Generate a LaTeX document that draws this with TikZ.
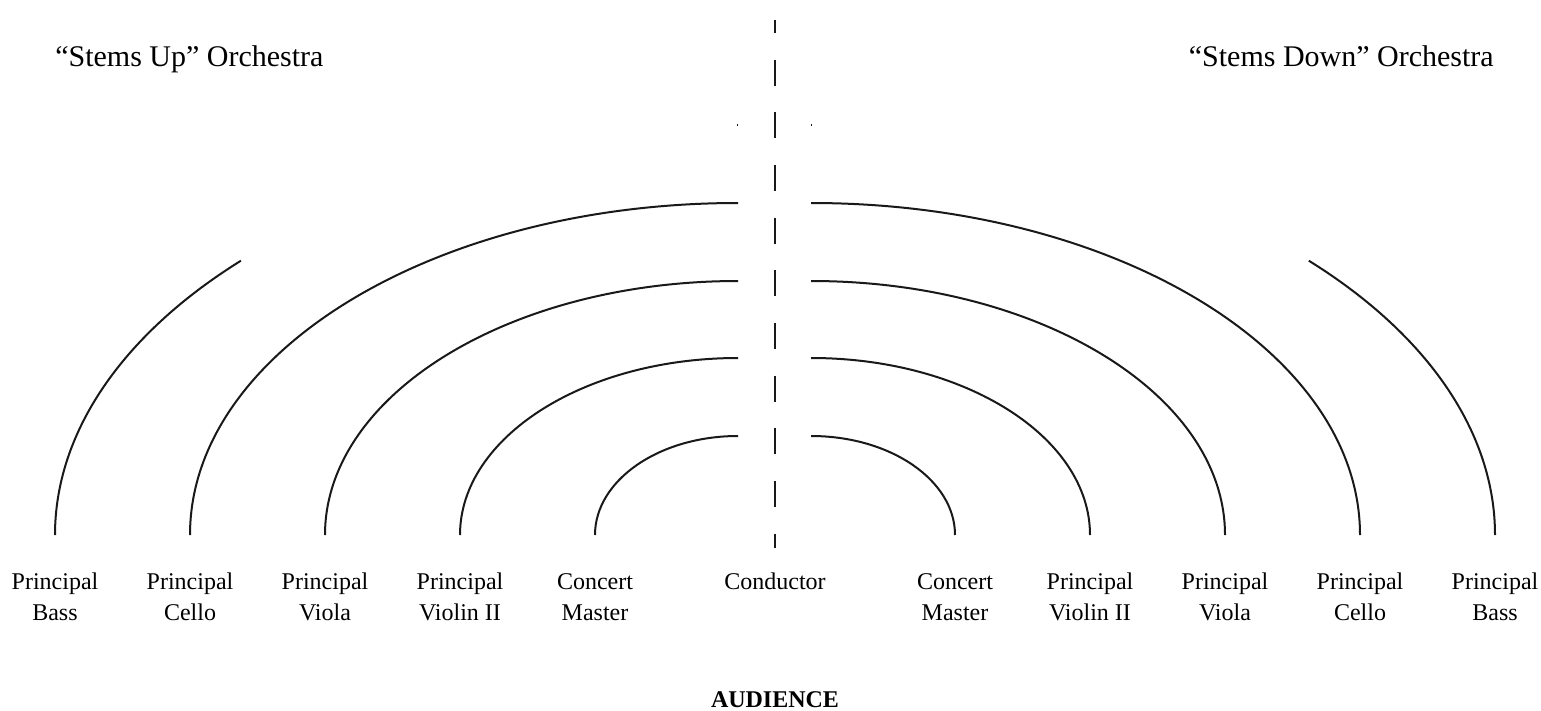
\documentclass[tikz,border=0pt]{standalone}
\usepackage{fontspec}
\setmainfont{Liberation Serif}
\begin{document}
\begin{tikzpicture}[x=0.75pt,y=-0.75pt,
  arcline/.style={line width=1.5pt, black!90},
  axisline/.style={line width=1.6pt, black!90, dash pattern=on 19.5pt off 20pt, dash phase=9.75pt},
  lbl/.style={font=\fontsize{18}{23.25}\selectfont, align=center, inner sep=0pt, anchor=base},
  ttl/.style={font=\fontsize{22.5}{27}\selectfont, inner sep=0pt},
  aud/.style={font=\fontsize{18}{22}\selectfont\bfseries, inner sep=0pt, anchor=base}]
\useasboundingbox (0,0) rectangle (1541,710);

% titles
\node[ttl, anchor=base west] (tup) at (55,67) {“Stems Up” Orchestra};
\node[ttl, anchor=base east] (tdown) at (1494,67) {“Stems Down” Orchestra};

% labels (base anchor = baseline of the last line)
\node[lbl] (lbass)  at (55,620)  {Principal\\Bass};
\node[lbl] (lcello) at (190,620) {Principal\\Cello};
\node[lbl] (lviola) at (325,620) {Principal\\Viola};
\node[lbl] (lvii)   at (460,620) {Principal\\Violin II};
\node[lbl] (lcm)    at (595,620) {Concert\\Master};
\node[lbl] (cond)   at (775,589) {Conductor};
\node[lbl] (rcm)    at (955,620) {Concert\\Master};
\node[lbl] (rvii)   at (1090,620) {Principal\\Violin II};
\node[lbl] (rviola) at (1225,620) {Principal\\Viola};
\node[lbl] (rcello) at (1360,620) {Principal\\Cello};
\node[lbl] (rbass)  at (1495,620) {Principal\\Bass};
\node[aud] (audience) at (775,707) {AUDIENCE};

% arc foot points
\coordinate (fLcm) at (595,535);
\coordinate (fLvii) at (460,535);
\coordinate (fLviola) at (325,535);
\coordinate (fLcello) at (190,535);
\coordinate (fLbass) at (55,535);
\coordinate (fRcm) at (955,535);
\coordinate (fRvii) at (1090,535);
\coordinate (fRviola) at (1225,535);
\coordinate (fRcello) at (1360,535);
\coordinate (fRbass) at (1495,535);

% left arcs (centre x = 738)
\draw[arcline] (fLcm) arc[start angle=180, end angle=270, x radius=143, y radius=99];
\draw[arcline] (fLvii) arc[start angle=180, end angle=270, x radius=278, y radius=177];
\draw[arcline] (fLviola) arc[start angle=180, end angle=270, x radius=413, y radius=254];
\draw[arcline] (fLcello) arc[start angle=180, end angle=270, x radius=548, y radius=332];
\draw[arcline] (fLbass) arc[start angle=180, end angle=223.3, x radius=683, y radius=400];
\draw[arcline, line width=1pt] (737,125) -- (738,125);

% right arcs (centre x = 811)
\draw[arcline] (fRcm) arc[start angle=0, end angle=-90, x radius=144, y radius=99];
\draw[arcline] (fRvii) arc[start angle=0, end angle=-90, x radius=279, y radius=177];
\draw[arcline] (fRviola) arc[start angle=0, end angle=-90, x radius=414, y radius=254];
\draw[arcline] (fRcello) arc[start angle=0, end angle=-90, x radius=549, y radius=332];
\draw[arcline] (fRbass) arc[start angle=0, end angle=-43.3, x radius=684, y radius=400];
\draw[arcline, line width=1pt] (811,125) -- (812,125);

% centre dashed axis
\coordinate (axtop) at (775,20);
\coordinate (axbot) at (775,548);
\draw[axisline] (axtop) -- (axbot);
\end{tikzpicture}
\end{document}
